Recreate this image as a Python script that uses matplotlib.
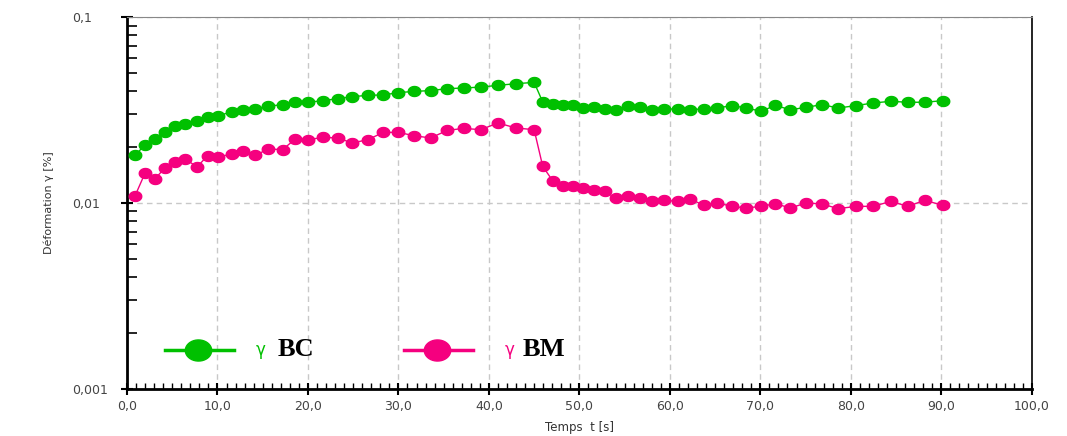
import matplotlib
matplotlib.use("Agg")
import numpy as np
import matplotlib.pyplot as plt
from matplotlib.ticker import FixedLocator, MultipleLocator, FuncFormatter, LogLocator, NullFormatter
from matplotlib.lines import Line2D
from matplotlib.path import Path

# ---- data ----
time_s = [0.9, 2.0, 3.1, 4.2, 5.3, 6.4, 7.75, 8.9, 10.1, 11.6, 12.85, 14.2, 15.6, 17.2, 18.6,
          20.0, 21.7, 23.3, 24.9, 26.6, 28.35, 30.0, 31.7, 33.55, 35.4, 37.2, 39.1, 41.0, 43.0, 45.0,
          45.95, 47.1, 48.2, 49.3, 50.4, 51.6, 52.8, 54.0, 55.35, 56.7, 58.0, 59.35, 60.9, 62.25, 63.75,
          65.25, 66.85, 68.45, 70.1, 71.65, 73.3, 75.1, 76.8, 78.6, 80.6, 82.5, 84.4, 86.3, 88.15, 90.2]

gamma_bc = [0.0180, 0.0206, 0.0221, 0.0240, 0.0258, 0.0266, 0.0275, 0.0290, 0.0295, 0.0309,
            0.0315, 0.0321, 0.0331, 0.0338, 0.0348, 0.0348, 0.0355, 0.0364, 0.0373, 0.0379,
            0.0381, 0.0392, 0.0398, 0.0402, 0.0412, 0.0415, 0.0420, 0.0429, 0.0438, 0.0445,
            0.0349, 0.0342, 0.0338, 0.0335, 0.0324, 0.0328, 0.0321, 0.0317, 0.0331, 0.0327,
            0.0317, 0.0320, 0.0320, 0.0317, 0.0321, 0.0324, 0.0334, 0.0324, 0.0311, 0.0335,
            0.0317, 0.0327, 0.0338, 0.0324, 0.0334, 0.0345, 0.0352, 0.0348, 0.0348, 0.0355]

gamma_bm = [0.01094, 0.01449, 0.01351, 0.01542, 0.01653, 0.01730, 0.01561, 0.01796, 0.01759, 0.01841,
            0.01895, 0.01803, 0.01952, 0.01935, 0.02208, 0.02189, 0.02253, 0.02236, 0.02101, 0.02189,
            0.02396, 0.02396, 0.02301, 0.02236, 0.02456, 0.02518, 0.02478, 0.02692, 0.02530, 0.02478,
            0.01573, 0.01306, 0.01228, 0.01239, 0.01204, 0.01179, 0.01154, 0.01064, 0.01085, 0.01064,
            0.01020, 0.01033, 0.01020, 0.01051, 0.00971, 0.01000, 0.00959, 0.00940, 0.00959, 0.00991,
            0.00940, 0.01000, 0.00988, 0.00932, 0.00959, 0.00959, 0.01020, 0.00959, 0.01033, 0.00971]

x_ticks = [0, 10, 20, 30, 40, 50, 60, 70, 80, 90, 100]
y_ticks = [0.001, 0.01, 0.1]

GREEN = "#00c000"
PINK = "#f5007f"

# slightly wide elliptical dot, as in the reference
_th = np.linspace(0, 2 * np.pi, 40)
ELLIPSE = Path(np.column_stack([np.cos(_th), 0.8 * np.sin(_th)]), closed=True)

fig = plt.figure(figsize=(10.67, 4.36), dpi=100)
ax = fig.add_axes([0.119, 0.108, 0.848, 0.853])

ax.plot(time_s, gamma_bc, "-", marker=ELLIPSE, color=GREEN, lw=1.0, ms=9.0, mec=GREEN, zorder=3)
ax.plot(time_s, gamma_bm, "-", marker=ELLIPSE, color=PINK, lw=1.0, ms=9.0, mec=PINK, zorder=3)

ax.set_yscale("log")
ax.set_xlim(0, 100)
ax.set_ylim(0.001, 0.1)

ax.xaxis.set_major_locator(FixedLocator(x_ticks))
ax.xaxis.set_minor_locator(MultipleLocator(1))
ax.xaxis.set_major_formatter(FuncFormatter(lambda v, p: f"{v:.1f}".replace(".", ",")))
ax.yaxis.set_major_locator(FixedLocator(y_ticks))
ax.yaxis.set_minor_locator(LogLocator(base=10, subs=range(2, 10)))
ax.yaxis.set_minor_formatter(NullFormatter())
ax.yaxis.set_major_formatter(FuncFormatter(lambda v, p: f"{v:g}".replace(".", ",")))

ax.tick_params(axis="both", which="major", direction="inout", length=9, width=1.5,
               labelsize=9, labelcolor="#444444", color="black")
ax.tick_params(axis="y", which="major", pad=35)
ax.tick_params(axis="x", which="minor", direction="in", length=4, width=1.0)
ax.tick_params(axis="y", which="minor", direction="in", length=7, width=1.2)
for lab in ax.get_yticklabels():
    lab.set_horizontalalignment("left")

ax.grid(True, which="major", linestyle=(0, (4, 3)), color="#c8c8c8", lw=1.0)

for s in ["left", "bottom"]:
    ax.spines[s].set_linewidth(2.0)
    ax.spines[s].set_color("black")
ax.spines["right"].set_linewidth(1.2)
ax.spines["right"].set_color("black")
ax.spines["top"].set_linewidth(0.8)
ax.spines["top"].set_color("#888888")

ax.set_ylabel("Déformation γ [%]", fontsize=8, color="#333333")
ax.yaxis.set_label_coords(-0.081, 0.5)
ax.set_xlabel("Temps  t [s]", fontsize=8.5, color="#333333")
ax.xaxis.set_label_coords(0.5, -0.085)

# legend drawn inside the axes
ly = 0.105
ax.add_line(Line2D([0.042, 0.118], [ly, ly], transform=ax.transAxes, color=GREEN, lw=2.5))
ax.add_line(Line2D([0.079], [ly], transform=ax.transAxes, marker=ELLIPSE, ms=19, color=GREEN))
ax.text(0.1425, ly, "γ", transform=ax.transAxes, color=GREEN, fontsize=12, va="center")
ax.text(0.166, ly, "BC", transform=ax.transAxes, color="black", fontsize=19,
        fontweight="bold", family="Liberation Serif", va="center")
ax.add_line(Line2D([0.306, 0.382], [ly, ly], transform=ax.transAxes, color=PINK, lw=2.5))
ax.add_line(Line2D([0.343], [ly], transform=ax.transAxes, marker=ELLIPSE, ms=19, color=PINK))
ax.text(0.418, ly, "γ", transform=ax.transAxes, color=PINK, fontsize=12, va="center")
ax.text(0.437, ly, "BM", transform=ax.transAxes, color="black", fontsize=19,
        fontweight="bold", family="Liberation Serif", va="center")

fig.savefig("out.png", dpi=100, facecolor="white")
